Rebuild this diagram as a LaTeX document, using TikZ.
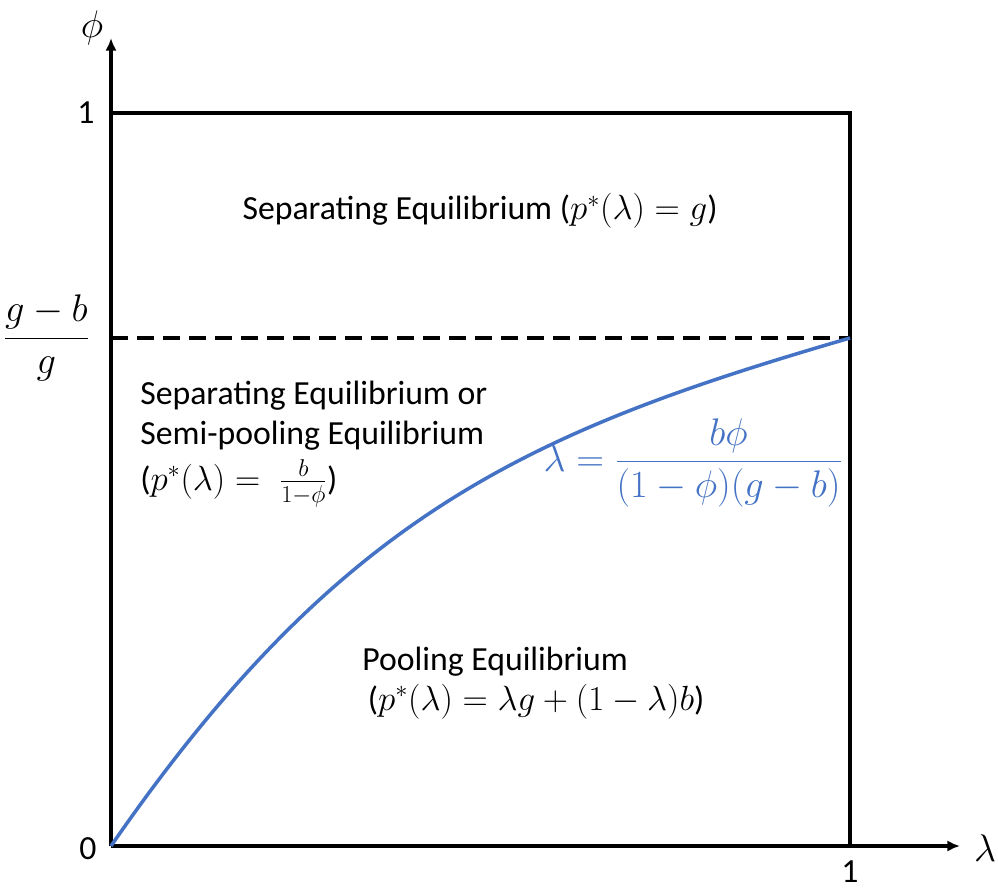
\documentclass[tikz,border=0pt]{standalone}
\usepackage{fontspec}
\setmainfont{Carlito}
\usetikzlibrary{arrows.meta}
\definecolor{curvecol}{RGB}{68,114,196}
\tikzset{>={Latex[length=9pt,width=8pt]}}
\tikzstyle{axis} = [line width=2.6pt, color=black]
\tikzstyle{border} = [line width=2.6pt, color=black]
\tikzstyle{bound} = [line width=2.6pt, dash pattern=on 12pt off 6.5pt]
\tikzstyle{curve} = [line width=2.5pt, color=curvecol]
\tikzstyle{region} = [inner sep=0pt, align=left]

\begin{document}
\begin{tikzpicture}[x=0.025cm,y=0.025cm,font=\fontsize{24}{28.4}\selectfont]
  \def\W{739} % width of unit box
  \def\H{733} % height of unit box
  \def\D{508} % level of (g-b)/g
  \useasboundingbox (-111,-42) rectangle (887,846);
  \coordinate (O) at (0,0);
  \coordinate (A) at (\W,0);
  \coordinate (B) at (\W,\H);
  \coordinate (C) at (0,\H);
  \coordinate (E) at (\W,\D);
  \coordinate (F) at (0,\D);

  % AXES
  \draw[axis,->] (O) -- (849,0) coordinate (Xend);
  \draw[axis,->] (O) -- (0,808) coordinate (Yend);
  \node[scale=1.1] (lam) at (874,-2) {$\lambda$};
  \node[scale=1.1] (phi) at (-19,818) {$\phi$};
  \node (zero) at (-23,-3) {0};
  \node (oneY) at (-25,\H) {1};
  \node[inner sep=0pt] (oneX) at (\W,-26) {1};
  \node[anchor=east,scale=1.1] (frac) at (-16,\D) {$\displaystyle\frac{g-b}{g}$};

  % BOX
  \draw[border] (C) -- (B) -- (A);
  \draw[bound] (F) -- (E);

  % BOUNDARY CURVE
  \draw[curve] (O) .. controls (230,333) and (419,415) .. (E);
  \node[curvecol,scale=1.1] (curvelab) at (582,383) {$\lambda = \displaystyle\frac{b\phi}{(1-\phi)(g-b)}$};

  % REGIONS
  \node (sep) at (369,635) {Separating Equilibrium ($p^*(\lambda) = g$)};
  \node[region,anchor=north west] (semi) at (29,465)
    {Separating Equilibrium or\\Semi-pooling Equilibrium\\[4pt]($p^*(\lambda) = \;\frac{b}{1-\phi}$)};
  \node[region,anchor=north west] (pool) at (251,199)
    {Pooling Equilibrium\\ \hspace{4pt}($p^*(\lambda) = \lambda g + (1-\lambda)b$)};
\end{tikzpicture}
\end{document}
